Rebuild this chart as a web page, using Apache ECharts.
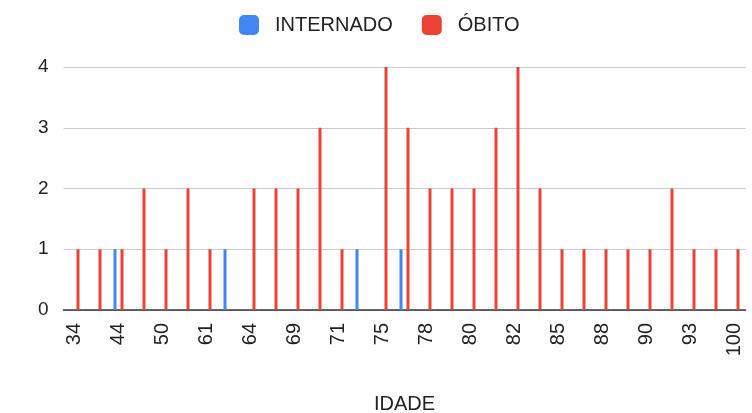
<!DOCTYPE html>
<html>
  <head>
    <meta charset="utf-8" />
    <title>IDADE</title>
    <script src="https://cdn.jsdelivr.net/npm/echarts@6/dist/echarts.min.js"></script>
    <style>
      html, body { margin: 0; padding: 0; background: #fff; }
    </style>
  </head>
  <body>
    <div id="main" style="width: 752px;height:413px;"></div>
    <script type="text/javascript">
      // idades (só metade dos rótulos aparece no eixo)
      var idades = ['34', '40', '44', '48', '50', '58', '61', '62', '64', '67',
                    '69', '70', '71', '73', '75', '76', '78', '79', '80', '81',
                    '82', '84', '85', '87', '88', '89', '90', '92', '93', '96', '100'];
      var internado = [0, 0, 1, 0, 0, 0, 0, 1, 0, 0,
                       0, 0, 0, 1, 0, 1, 0, 0, 0, 0,
                       0, 0, 0, 0, 0, 0, 0, 0, 0, 0, 0];
      var obito = [1, 1, 1, 2, 1, 2, 1, 0, 2, 2,
                   2, 3, 1, 0, 4, 3, 2, 2, 2, 3,
                   4, 2, 1, 1, 1, 1, 1, 2, 1, 1, 1];
      var yTicks = [0, 1, 2, 3, 4];

      var fonte = '"Liberation Sans", Arial, sans-serif';
      var myChart = echarts.init(document.getElementById('main'));

      var option = {
        animation: false,
        textStyle: { fontFamily: fonte },
        color: ['#4285F4', '#EA4335'],
        legend: {
          left: 239,
          top: 15,
          padding: 0,
          icon: 'roundRect',
          itemWidth: 20,
          itemHeight: 20,
          itemGap: 29,
          textStyle: { fontSize: 20, color: '#222', fontFamily: fonte, padding: [0, 0, 0, 11] },
          data: ['INTERNADO', 'ÓBITO']
        },
        grid: { left: 63.5, right: 6.5, top: 67, bottom: 103, outerBoundsMode: 'none' },
        xAxis: {
          type: 'category',
          data: idades,
          name: 'IDADE',
          nameLocation: 'middle',
          nameGap: 84,
          nameTextStyle: { fontSize: 20, color: '#222', fontFamily: fonte },
          axisLine: { lineStyle: { color: '#333', width: 1.5 } },
          axisTick: { show: false },
          axisLabel: { rotate: 90, interval: 1, fontSize: 20, color: '#222', margin: 13, fontFamily: fonte }
        },
        yAxis: {
          type: 'value',
          min: yTicks[0],
          max: yTicks[yTicks.length - 1],
          interval: 1,
          axisLine: { show: false },
          axisTick: { show: false },
          splitLine: { lineStyle: { color: '#ccc', width: 1 } },
          axisLabel: { fontSize: 19, color: '#222', margin: 15, fontFamily: fonte }
        },
        series: [
          {
            name: 'INTERNADO',
            type: 'bar',
            barWidth: 3,
            barGap: '133%',
            data: internado
          },
          {
            name: 'ÓBITO',
            type: 'bar',
            barWidth: 3,
            barGap: '133%',
            data: obito
          }
        ]
      };
      myChart.setOption(option);
    </script>
  </body>
</html>
